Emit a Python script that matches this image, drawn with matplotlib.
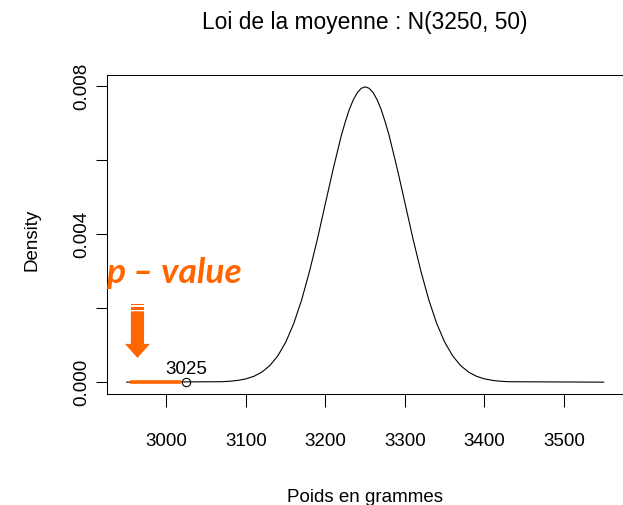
import matplotlib
matplotlib.use("Agg")
import matplotlib.pyplot as plt
from matplotlib.patches import Polygon

poids = [2950, 3070, 3080, 3090, 3100, 3110, 3120, 3130, 3140, 3150, 3160,
         3170, 3180, 3190, 3200, 3210, 3220, 3225, 3230, 3235, 3240, 3245,
         3250, 3255, 3260, 3265, 3270, 3275, 3280, 3290, 3300, 3310, 3320,
         3330, 3340, 3350, 3360, 3370, 3380, 3390, 3400, 3410, 3420, 3430,
         3550]
densite = [0, 0.000012, 0.000025, 0.000048, 0.000089, 0.000158, 0.000272,
           0.000448, 0.000709, 0.00108, 0.00158, 0.00222, 0.00300, 0.00388,
           0.00484, 0.00579, 0.00667, 0.00704, 0.00737, 0.00763, 0.00782,
           0.00794, 0.00798, 0.00794, 0.00782, 0.00763, 0.00737, 0.00704,
           0.00667, 0.00579, 0.00484, 0.00388, 0.00300, 0.00222, 0.00158,
           0.00108, 0.000709, 0.000448, 0.000272, 0.000158, 0.000089,
           0.000048, 0.000025, 0.000012, 0]

valeur_obs = 3025
zone_p = [2954, 3018]
x_ticks = [3000, 3100, 3200, 3300, 3400, 3500]
y_ticks = [0, 0.002, 0.004, 0.006, 0.008]
y_labels = ["0.000", "", "0.004", "", "0.008"]

orange = "#ff6600"

plt.rcParams["font.family"] = ["Liberation Sans", "DejaVu Sans"]

fig = plt.figure(figsize=(6.23, 5.05), dpi=100)
ax = fig.add_axes([107 / 623, 111 / 505, 519 / 623, 319 / 505])

ax.plot(poids, densite, color="black", lw=0.8)
ax.plot(zone_p, [0, 0], color=orange, lw=2.6, solid_capstyle="butt")
ax.plot([valeur_obs], [0], "o", mfc="none", mec="black", ms=6, mew=0.8)
ax.text(valeur_obs, 0.00022, str(valeur_obs), ha="center", va="baseline",
        fontsize=13.5)

ax.set_xlim(2925.2, 3578)
ax.set_ylim(-0.00032, 0.0083)
ax.set_xticks(x_ticks)
ax.set_yticks(y_ticks)
ax.set_yticklabels(y_labels, rotation=90, va="center")
ax.tick_params(axis="x", length=9, width=0.75, pad=19, labelsize=13.5)
ax.tick_params(axis="y", length=8, width=0.75, pad=4, labelsize=13.5)
for s in ax.spines.values():
    s.set_linewidth(0.75)

# fleche orange
cx = 2963.5
bw, hw = 8.3, 15.7
def yy(p):
    return (381 - p) / 36750
corps = Polygon([(cx - bw, yy(310.7)), (cx + bw, yy(310.7)), (cx + bw, yy(343)),
                 (cx + hw, yy(343)), (cx, yy(357)), (cx - hw, yy(343)),
                 (cx - bw, yy(343))], closed=True, color=orange, lw=0)
ax.add_patch(corps)
for a, b in [(303, 304.5), (306, 309.5)]:
    ax.add_patch(Polygon([(cx - bw, yy(a)), (cx + bw, yy(a)), (cx + bw, yy(b)),
                          (cx - bw, yy(b))], closed=True, color=orange, lw=0))

ax.text(2923.5, yy(283), "p \u2013 value", color=orange, fontsize=25.5,
        family="Lato", fontweight="bold", style="italic", ha="left",
        va="baseline", clip_on=False)

fig.text(365 / 623, 1 - 23 / 505, "Loi de la moyenne : N(3250, 50)",
         ha="center", va="center", fontsize=16.4)
fig.text(365 / 623, 1 - 497 / 505, "Poids en grammes", ha="center",
         va="center", fontsize=13.5)
fig.text(32 / 623, 1 - 240 / 505, "Density", ha="center", va="center",
         rotation=90, fontsize=13.5)

fig.savefig("out.png", dpi=100)
